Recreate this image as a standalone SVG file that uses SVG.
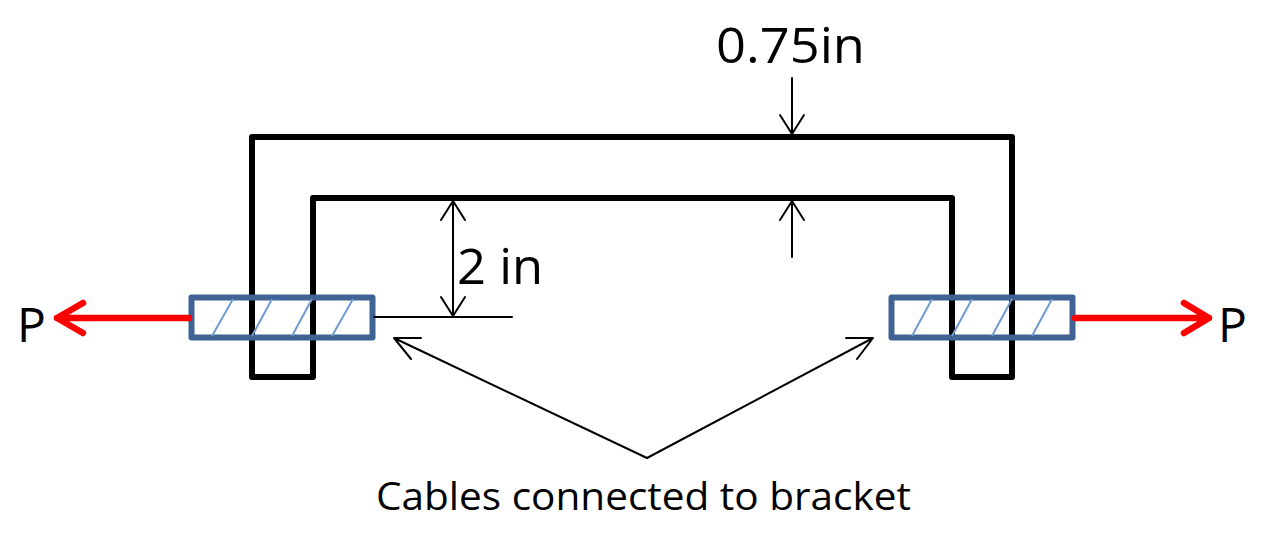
<svg xmlns="http://www.w3.org/2000/svg" width="1262" height="551" viewBox="0 0 1262 551">
<style>
.t{font-family:"Open Sans","Noto Sans",sans-serif;fill:#000}
.b{fill:none;stroke:#000;stroke-width:6;stroke-linejoin:round;stroke-linecap:round}
.c{fill:none;stroke:#000;stroke-width:2;stroke-linecap:round;stroke-linejoin:round}
.r{fill:none;stroke:#f00;stroke-width:6.500;stroke-linecap:round;stroke-linejoin:round}
.k{fill:none;stroke:#3f6394;stroke-width:6;stroke-linejoin:round}
.h{stroke:#6f9bd1;stroke-width:2}
</style>
<rect width="1262" height="551" fill="#fff"/>
<g id="bracket"><path class="b" d="M252 377V137H1012V377H952V198H313V377Z"/></g>
<g id="cable-left"><rect class="k" x="191.500" y="297.500" width="181" height="40"/><path class="h" d="M212 336L233 299M252 336L272 299M292 336L312 299M332 336L353 299"/></g>
<g id="cable-right"><rect class="k" x="891.500" y="297.500" width="181" height="40"/><path class="h" d="M912 336L932 299M952 336L972 299M992 336L1012 299M1032 336L1052 299"/></g>
<g id="connectors">
<path class="r" d="M189 318H57M83 303L57 318L83 333"/>
<path class="r" d="M1075 318H1209M1184 303L1209 318L1184 333"/>
<path class="c" d="M792 78V134M780 115L792 134L804 115"/>
<path class="c" d="M792 257V201M780 220L792 201L804 220"/>
<path class="c" d="M453 201V316M441 220L453 201L465 220M441 297L453 316L465 297"/>
<path class="c" d="M374 317H512"/>
<path class="c" d="M647 458L394 338M421 338L394 338L411 359"/>
<path class="c" d="M647 458L873 338M846 338L873 338L857 359"/>
</g>
<text class="t" x="716" y="63" font-size="50" textLength="149" lengthAdjust="spacingAndGlyphs">0.75in</text>
<text class="t" x="457" y="284" font-size="50" textLength="86" lengthAdjust="spacingAndGlyphs">2 in</text>
<text class="t" x="17" y="342" font-size="48">P</text>
<text class="t" x="1218" y="342" font-size="48">P</text>
<text class="t" x="376" y="510" font-size="38" textLength="535" lengthAdjust="spacingAndGlyphs">Cables connected to bracket</text>
</svg>
